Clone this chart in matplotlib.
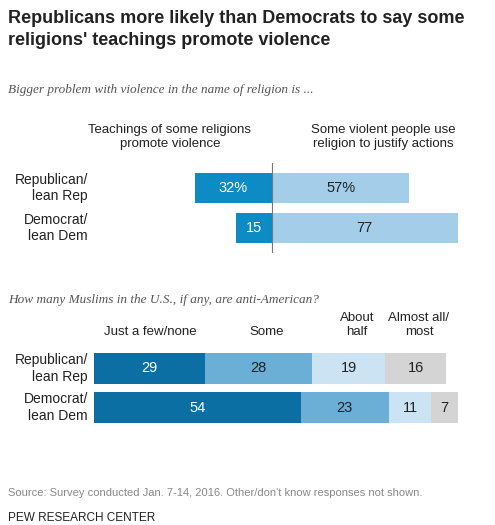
import matplotlib.pyplot as plt

plt.rcParams['font.family'] = ['Liberation Sans', 'DejaVu Sans']

groups = ["Republican/\nlean Rep", "Democrat/\nlean Dem"]
teachings = [32, 15]
people = [57, 77]
muslim_cats = ["Just a few/none", "Some", "About\nhalf", "Almost all/\nmost"]
muslims = [[29, 28, 19, 16], [54, 23, 11, 7]]

W, H = 495, 525
fig = plt.figure(figsize=(W / 100, H / 100), dpi=100)

def px_axes(x0, y0, x1, y1):
    # pixel box (top-left origin) -> figure axes
    return fig.add_axes([x0 / W, 1 - y1 / H, (x1 - x0) / W, (y1 - y0) / H])

def ftext(x, y, s, **kw):
    fig.text(x / W, 1 - y / H, s, **kw)

ftext(8, 10, "Republicans more likely than Democrats to say some\nreligions' teachings promote violence",
      fontsize=13, fontweight='bold', va='top', linespacing=1.35, color='#222222')
ftext(8, 90, "Bigger problem with violence in the name of religion is ...", fontsize=9.5,
      style='italic', color='#555555', va='center', family='Liberation Serif')

# top diverging chart
s1 = 2.41
ax1 = px_axes(94, 163, 494, 253)
ax1.set_xlim(-(272 - 94) / s1, (494 - 272) / s1)
ax1.set_ylim(253 - 163, 0)
rows1 = [188, 228]
for i, yc in enumerate(rows1):
    y = yc - 163
    ax1.barh(y, -teachings[i], height=30, color='#0C8BC4')
    ax1.barh(y, people[i], height=30, color='#A3CDE8')
    ax1.text(-teachings[i] / 2, y, f"{teachings[i]}%" if i == 0 else str(teachings[i]),
             color='white', ha='center', va='center', fontsize=10.5)
    ax1.text(people[i] / 2, y, f"{people[i]}%" if i == 0 else str(people[i]),
             color='#222222', ha='center', va='center', fontsize=10.5)
ax1.axvline(0, color='#777777', lw=0.8)
ax1.axis('off')
ftext(170, 137, "Teachings of some religions\npromote violence", ha='center', va='center', fontsize=9.5, color='#222222')
ftext(383, 137, "Some violent people use\nreligion to justify actions", ha='center', va='center', fontsize=9.5, color='#222222')
for g, yc in zip(groups, rows1):
    ftext(88, yc, g, ha='right', va='center', fontsize=10, color='#222222')

ftext(8, 300, "How many Muslims in the U.S., if any, are anti-American?", fontsize=9.5,
      style='italic', color='#555555', va='center', family='Liberation Serif')

# bottom stacked chart
s2 = 3.83
ax2 = px_axes(94, 343, 494, 433)
ax2.set_xlim(0, 400 / s2)
ax2.set_ylim(90, 0)
colors = ['#0B6FA4', '#6BAED6', '#CCE3F3', '#D4D4D4']
tcols = ['white', '#222222', '#222222', '#222222']
rows2 = [368.5, 407.5]
for i, yc in enumerate(rows2):
    left = 0
    for j, v in enumerate(muslims[i]):
        ax2.barh(yc - 343, v, left=left, height=31, color=colors[j])
        ax2.text(left + v / 2, yc - 343, str(v), ha='center', va='center', fontsize=10.5, color=tcols[j])
        left += v
ax2.axis('off')
for g, yc in zip(groups, rows2):
    ftext(88, yc, g, ha='right', va='center', fontsize=10, color='#222222')
for lab, x in zip(muslim_cats, [150, 267, 357, 419]):
    ftext(x, 338, lab, ha='center', va='bottom', fontsize=9.5, color='#222222')

ftext(8, 493, "Source: Survey conducted Jan. 7-14, 2016. Other/don't know responses not shown.",
      fontsize=8, color='#888888', va='center')
ftext(8, 518, "PEW RESEARCH CENTER", fontsize=8.5, color='#222222', va='center')

fig.savefig("out.png", dpi=100)
